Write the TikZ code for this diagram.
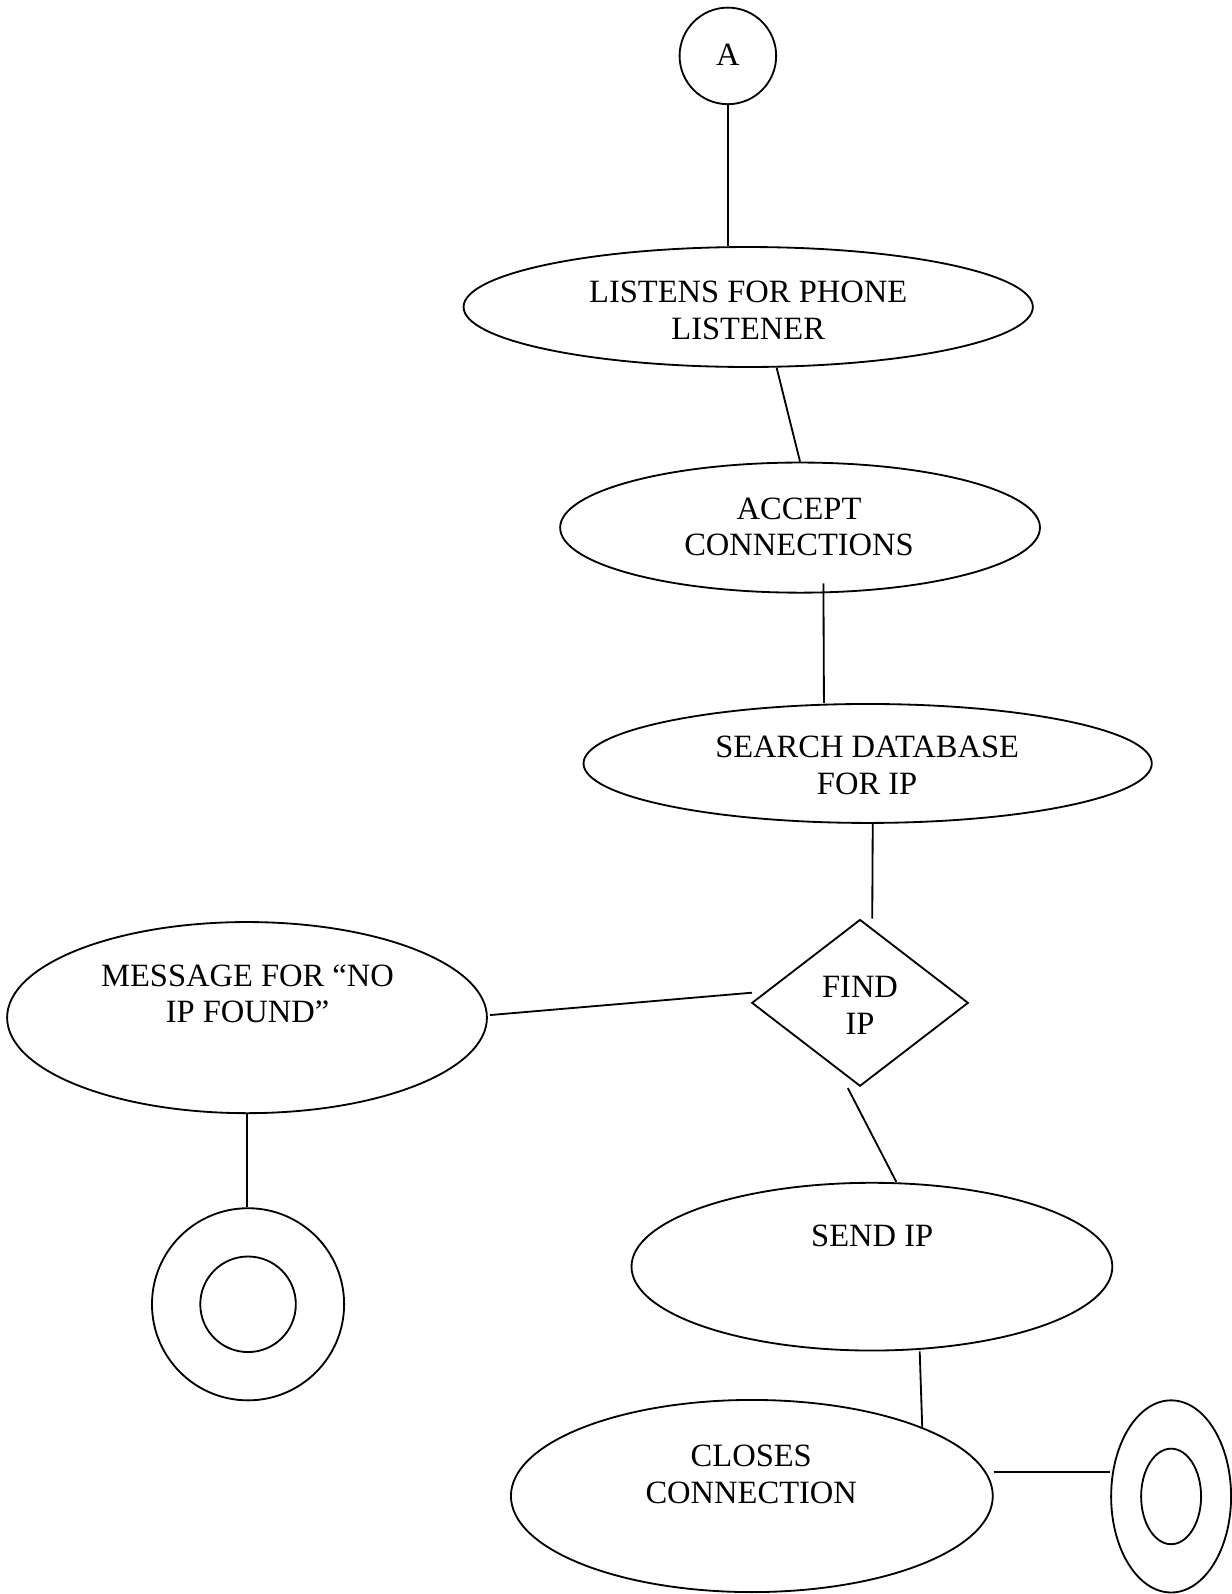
\documentclass[tikz,border=0pt]{standalone}
\usepackage{fontspec}
\setmainfont{Liberation Serif}
\usetikzlibrary{shapes.geometric,calc}
\begin{document}
\begin{tikzpicture}[x=1pt,y=-1pt,line width=1.8pt,
  shapeline/.style={draw,inner sep=0pt},
  oval/.style={shapeline,ellipse},
  txt/.style={font=\fontsize{32}{36}\selectfont,align=center,inner sep=0pt,anchor=north}]
\useasboundingbox (0,0) rectangle (1211,1568);
% shapes
\node[shapeline,circle,minimum size=95pt] (A) at (716,55) {};
\node[oval,minimum width=560pt,minimum height=118pt] (listen) at (736,302) {};
\node[oval,minimum width=472pt,minimum height=128pt] (accept) at (787,519) {};
\node[oval,minimum width=559pt,minimum height=117pt] (search) at (853.5,751) {};
\node[shapeline,diamond,minimum width=213pt,minimum height=164pt] (find) at (846,986.5) {};
\node[oval,minimum width=472pt,minimum height=188pt] (message) at (243,1001) {};
\node[oval,minimum width=473pt,minimum height=165pt] (send) at (857.7,1246) {};
\node[oval,minimum width=474pt,minimum height=189pt] (closes) at (739.6,1471.6) {};
\node[shapeline,circle,minimum size=189pt] (endA) at (244,1283) {};
\node[shapeline,circle,minimum size=94pt] (endAi) at (244,1283) {};
\node[oval,minimum width=118pt,minimum height=189pt] (endB) at (1152,1472) {};
\node[oval,minimum width=59pt,minimum height=94pt] (endBi) at (1152,1472) {};
% texts
\node[txt,anchor=base] (tA) at (716,64) {A};
\node[txt] (tlisten) at (736,275.7) {LISTENS FOR PHONE\\LISTENER};
\node[txt] (taccept) at (786,488.6) {ACCEPT\\CONNECTIONS};
\node[txt] (tsearch) at (853,723.3) {SEARCH DATABASE\\FOR IP};
\node[txt] (tfind) at (846,959.4) {FIND\\IP};
\node[txt] (tmessage) at (243.5,947.9) {MESSAGE FOR ``NO\\IP FOUND''};
\node[txt] (tsend) at (858,1203.9) {SEND IP};
\node[txt] (tcloses) at (739,1420.9) {CLOSES\\CONNECTION};
% connectors
\draw (A.south) -- (A.south |- listen.north);
\draw ($(listen.south)+(28,0)$) -- (accept.north);
\draw ($(accept.south)+(23,-10)$) -- ($(search.north)+(-43,0)$);
\draw ($(search.south)+(5,0)$) -- ($(find.north)+(12,0)$);
\draw ($(find.west)+(1,-10)$) -- ($(message.east)+(2,-2.5)$);
\draw ($(find.south)+(-12,1)$) -- ($(send.north)+(24,0)$);
\draw ($(send.south)+(47,0)$) -- (closes.22.3);
\coordinate (c8) at ($(closes.east)+(0,-23.6)$);
\draw (c8) -- (c8 -| endB.west);
\draw (message.south) -- (message.south |- endA.north);
\end{tikzpicture}
\end{document}
